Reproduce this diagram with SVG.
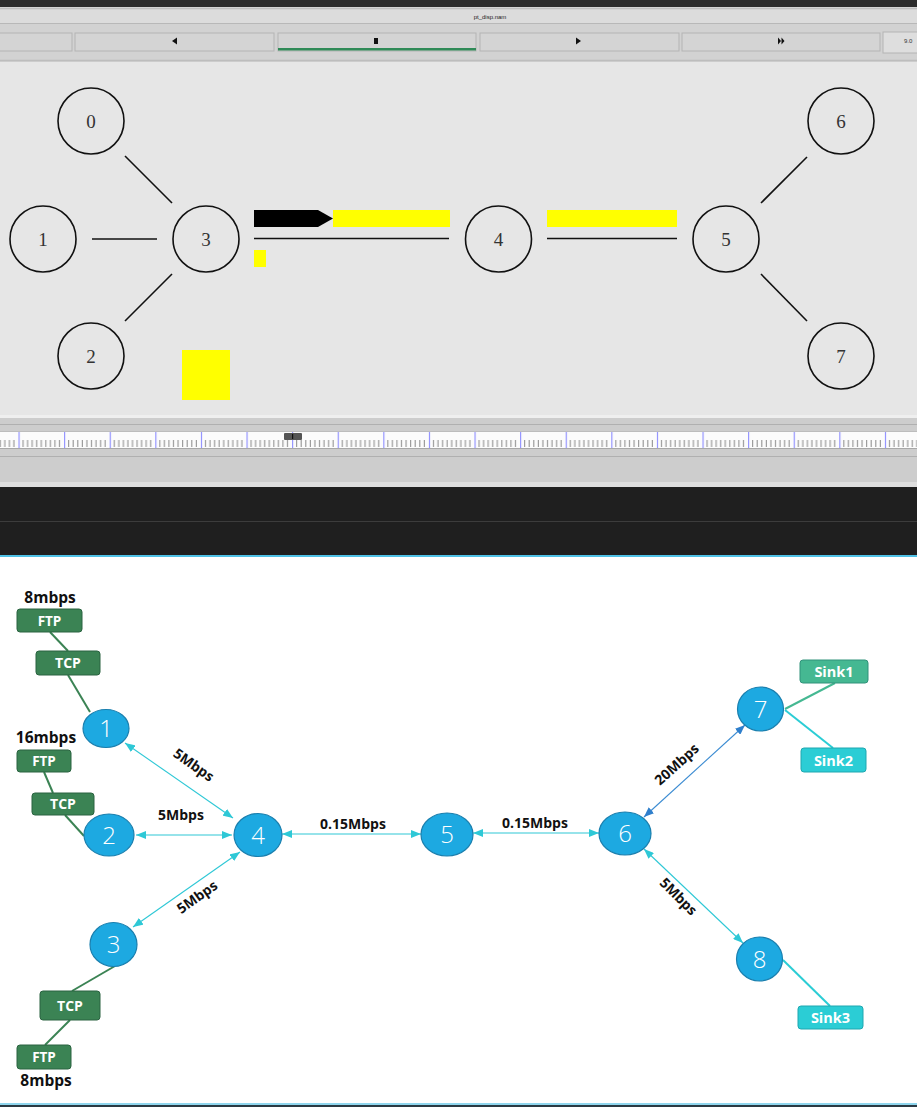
<svg xmlns="http://www.w3.org/2000/svg" width="917" height="1115" viewBox="0 0 917 1115">
<defs>
<style>
.nc{fill:none;stroke:#111;stroke-width:1.6}
.nt{font-family:"Liberation Serif",serif;font-size:19px;fill:#333;text-anchor:middle}
.nl{stroke:#111;stroke-width:1.6}
.btn{fill:#d4d4d4;stroke:#b4b4b4;stroke-width:1}
.ico{fill:#111}
.bn{fill:#1da9e1;stroke:#1a7fae;stroke-width:1.2}
.bt{font-family:"Open Sans","Liberation Sans",sans-serif;font-size:24px;font-weight:300;fill:#fff;text-anchor:middle}
.gb{fill:#3b8354;stroke:#2a6340;stroke-width:1}
.sk1{fill:#45b892;stroke:#31927a;stroke-width:1}
.sk2{fill:#2bcdd5;stroke:#1fa7b0;stroke-width:1}
.bx{font-family:"Open Sans","Liberation Sans",sans-serif;font-weight:700;fill:#fff;text-anchor:middle}
.lb{font-family:"Open Sans","Liberation Sans",sans-serif;font-size:14px;font-weight:700;fill:#111;text-anchor:middle}
.rate{font-family:"Open Sans","Liberation Sans",sans-serif;font-size:15.5px;font-weight:700;fill:#111;text-anchor:middle}
.e{stroke:#2ec8d6;stroke-width:1.1;fill:none;marker-start:url(#ac);marker-end:url(#ac)}
.eb{stroke:#3a8bd2;stroke-width:1.1;fill:none;marker-start:url(#ab);marker-end:url(#ab)}
.gl{stroke:#3b8354;stroke-width:2;fill:none}
.tl{stroke:#45b892;stroke-width:2;fill:none}
.cl{stroke:#2bcdd5;stroke-width:2;fill:none}
</style>
<marker id="ac" viewBox="0 0 10 8" refX="10" refY="4" markerWidth="10" markerHeight="8" orient="auto-start-reverse" markerUnits="userSpaceOnUse"><path d="M0,0 L10,4 L0,8 z" fill="#2ec8d6"/></marker>
<marker id="ab" viewBox="0 0 10 8" refX="10" refY="4" markerWidth="10" markerHeight="8" orient="auto-start-reverse" markerUnits="userSpaceOnUse"><path d="M0,0 L10,4 L0,8 z" fill="#2f7fcc"/></marker>
<pattern id="ruler" x="18.5" y="432" width="45.6" height="16" patternUnits="userSpaceOnUse">
<rect x="0" y="0" width="45.6" height="16" fill="#fcfcfc"/>
<path d="M4.6,8V15M9.1,8V15M13.7,8V15M18.2,8V15M22.8,8V15M27.4,8V15M31.9,8V15M36.5,8V15M41,8V15" stroke="#888" stroke-width="1"/>
<path d="M0.5,0V16" stroke="#8c8cff" stroke-width="1.2"/>
</pattern>
</defs>

<!-- window chrome -->
<rect x="0" y="0" width="917" height="1115" fill="#ffffff"/>
<rect x="0" y="0" width="917" height="7" fill="#2b2b2b"/>
<rect x="0" y="7" width="917" height="55" fill="#d2d2d2"/>
<rect x="0" y="10" width="917" height="13" fill="#dcdcdc"/>
<line x1="0" y1="23.5" x2="917" y2="23.5" stroke="#b8b8b8" stroke-width="1"/>
<line x1="0" y1="8.5" x2="917" y2="8.5" stroke="#bdbdbd" stroke-width="1"/>
<text x="490" y="19" font-family="Liberation Sans,sans-serif" font-size="6px" fill="#222" text-anchor="middle">pt_disp.nam</text>

<g id="toolbar">
<rect class="btn" x="-2" y="33" width="74" height="18"/>
<rect class="btn" x="75" y="33" width="199" height="18"/>
<rect class="btn" x="278" y="33" width="198" height="18"/>
<rect x="278" y="48" width="198" height="2.5" fill="#2f8a57"/>
<rect class="btn" x="480" y="33" width="199" height="18"/>
<rect class="btn" x="682" y="33" width="198" height="18"/>
<rect x="883" y="32" width="40" height="21" fill="#dedede" stroke="#b4b4b4"/>
<text x="904" y="43" font-family="Liberation Sans,sans-serif" font-size="6px" fill="#333">9.0</text>
<path class="ico" d="M172,41 L177,37.5 L177,44.5 z"/>
<rect class="ico" x="374" y="38" width="4" height="6"/>
<path class="ico" d="M576,37.5 L581,41 L576,44.5 z"/>
<path class="ico" d="M778,37.5 L781,41 L778,44.5 z M781.5,37.5 L784.5,41 L781.5,44.5 z"/>
</g>
<line x1="0" y1="60.5" x2="917" y2="60.5" stroke="#bdbdbd" stroke-width="1.5"/>

<!-- NAM canvas -->
<rect x="0" y="62" width="917" height="353" fill="#e6e6e6"/>

<g id="nam-links">
<line class="nl" x1="125" y1="156" x2="172" y2="203"/>
<line class="nl" x1="92" y1="239" x2="157" y2="239"/>
<line class="nl" x1="125" y1="321" x2="172" y2="274"/>
<line class="nl" x1="254" y1="238.5" x2="449" y2="238.5"/>
<line class="nl" x1="547" y1="238.5" x2="677" y2="238.5"/>
<line class="nl" x1="761" y1="203" x2="807" y2="157"/>
<line class="nl" x1="761" y1="274" x2="807" y2="321"/>
</g>

<g id="nam-packets">
<path d="M254,210 H318 L333,218.5 L318,227 H254 z" fill="#000"/>
<rect x="333" y="210" width="117" height="17" fill="#ffff00"/>
<rect x="547" y="210" width="130" height="17" fill="#ffff00"/>
<rect x="254" y="250" width="12" height="17" fill="#ffff00"/>
<rect x="182" y="350" width="48" height="50" fill="#ffff00"/>
</g>

<g id="nam-n0"><circle class="nc" cx="91" cy="121" r="33"/><text class="nt" x="91" y="128">0</text></g>
<g id="nam-n1"><circle class="nc" cx="43" cy="239" r="33"/><text class="nt" x="43" y="246">1</text></g>
<g id="nam-n2"><circle class="nc" cx="91" cy="356" r="33"/><text class="nt" x="91" y="363">2</text></g>
<g id="nam-n3"><circle class="nc" cx="206" cy="239" r="33"/><text class="nt" x="206" y="246">3</text></g>
<g id="nam-n4"><circle class="nc" cx="498.5" cy="239" r="33"/><text class="nt" x="498.5" y="246">4</text></g>
<g id="nam-n5"><circle class="nc" cx="726" cy="239" r="33"/><text class="nt" x="726" y="246">5</text></g>
<g id="nam-n6"><circle class="nc" cx="841" cy="121" r="33"/><text class="nt" x="841" y="128">6</text></g>
<g id="nam-n7"><circle class="nc" cx="841" cy="356" r="33"/><text class="nt" x="841" y="363">7</text></g>

<!-- lower chrome / timeline -->
<rect x="0" y="415" width="917" height="75" fill="#cdcdcd"/>
<rect x="0" y="415" width="917" height="3" fill="#efefef"/>
<line x1="0" y1="424.5" x2="917" y2="424.5" stroke="#b0b0b0" stroke-width="1"/>
<rect x="0" y="432" width="917" height="16" fill="url(#ruler)"/>
<line x1="0" y1="431.5" x2="917" y2="431.5" stroke="#bdbdbd" stroke-width="1"/>
<line x1="0" y1="448.5" x2="917" y2="448.5" stroke="#a8a8a8" stroke-width="1.2"/>
<line x1="0" y1="456.5" x2="917" y2="456.5" stroke="#b0b0b0" stroke-width="1"/>
<rect x="0" y="482" width="917" height="5" fill="#dedede"/>
<rect x="284" y="433" width="18" height="7" fill="#555" rx="1"/>
<rect x="292" y="434" width="1.2" height="5" fill="#111"/>
<rect x="0" y="487" width="917" height="68" fill="#1f1f1f"/>
<line x1="0" y1="521.5" x2="917" y2="521.5" stroke="#3c3c3c" stroke-width="1"/>
<rect x="0" y="555" width="917" height="2" fill="#4ec1e6"/>

<!-- bottom diagram connectors -->
<g id="connectors">
<line class="e" x1="125" y1="743" x2="233" y2="818"/>
<line class="e" x1="136" y1="835" x2="232" y2="835"/>
<line class="e" x1="133" y1="927" x2="240" y2="852"/>
<line class="e" x1="282" y1="834" x2="421" y2="834"/>
<line class="e" x1="473" y1="833" x2="599" y2="833"/>
<line class="eb" x1="644" y1="817" x2="745" y2="725"/>
<line class="e" x1="644" y1="849" x2="743" y2="943"/>
<line class="gl" x1="50" y1="632" x2="68" y2="651"/>
<line class="gl" x1="68" y1="675" x2="90" y2="712"/>
<line class="gl" x1="44" y1="772" x2="53" y2="793"/>
<line class="gl" x1="65" y1="815" x2="84" y2="836"/>
<line class="gl" x1="115" y1="966" x2="72" y2="991"/>
<line class="gl" x1="70" y1="1020" x2="45" y2="1045"/>
<line class="tl" x1="785" y1="709" x2="835" y2="683"/>
<line class="cl" x1="785" y1="710" x2="833" y2="748"/>
<line class="cl" x1="783" y1="960" x2="830" y2="1006"/>
</g>

<g id="link-labels">
<text class="lb" transform="translate(191,769) rotate(35)">5Mbps</text>
<text class="lb" x="181" y="820">5Mbps</text>
<text class="lb" transform="translate(200,901) rotate(-35)">5Mbps</text>
<text class="lb" x="353" y="829">0.15Mbps</text>
<text class="lb" x="535" y="828">0.15Mbps</text>
<text class="lb" transform="translate(680,768) rotate(-42)">20Mbps</text>
<text class="lb" transform="translate(675,900) rotate(45)">5Mbps</text>
</g>

<g id="n1"><ellipse class="bn" cx="106" cy="728.5" rx="23" ry="19"/><text class="bt" x="106" y="737">1</text></g>
<g id="n2"><ellipse class="bn" cx="109" cy="835" rx="25" ry="21"/><text class="bt" x="109" y="843.5">2</text></g>
<g id="n3"><ellipse class="bn" cx="113.5" cy="944.5" rx="23.5" ry="22"/><text class="bt" x="113.5" y="953">3</text></g>
<g id="n4"><ellipse class="bn" cx="258" cy="835" rx="24" ry="21.5"/><text class="bt" x="258" y="843.5">4</text></g>
<g id="n5"><ellipse class="bn" cx="447" cy="834.5" rx="26" ry="21.5"/><text class="bt" x="447" y="843">5</text></g>
<g id="n6"><ellipse class="bn" cx="625" cy="833.5" rx="26" ry="21.5"/><text class="bt" x="625" y="842">6</text></g>
<g id="n7"><ellipse class="bn" cx="760.5" cy="709" rx="23" ry="22"/><text class="bt" x="760.5" y="717.5">7</text></g>
<g id="n8"><ellipse class="bn" cx="759.5" cy="959" rx="23" ry="22"/><text class="bt" x="759.5" y="967.5">8</text></g>

<g id="agent1">
<text class="rate" x="50" y="603">8mbps</text>
<rect class="gb" x="17" y="609" width="65" height="23" rx="3"/><text class="bx" x="49.5" y="625.5" font-size="13.5px">FTP</text>
<rect class="gb" x="36" y="651" width="64" height="24" rx="3"/><text class="bx" x="68" y="668" font-size="14px">TCP</text>
</g>
<g id="agent2">
<text class="rate" x="46" y="743">16mbps</text>
<rect class="gb" x="17" y="750" width="54" height="22" rx="3"/><text class="bx" x="44" y="766" font-size="13.5px">FTP</text>
<rect class="gb" x="32" y="793" width="62" height="22" rx="3"/><text class="bx" x="63" y="809" font-size="14px">TCP</text>
</g>
<g id="agent3">
<rect class="gb" x="40" y="991" width="60" height="29" rx="3"/><text class="bx" x="70" y="1010.5" font-size="14px">TCP</text>
<rect class="gb" x="17" y="1045" width="54" height="24" rx="3"/><text class="bx" x="44" y="1062" font-size="13.5px">FTP</text>
<text class="rate" x="46" y="1086">8mbps</text>
</g>
<g id="sink1"><rect class="sk1" x="800" y="660" width="68" height="23" rx="3"/><text class="bx" x="834" y="677" font-size="14.5px">Sink1</text></g>
<g id="sink2"><rect class="sk2" x="801" y="748" width="65" height="24" rx="3"/><text class="bx" x="833.5" y="765.5" font-size="14.5px">Sink2</text></g>
<g id="sink3"><rect class="sk2" x="798" y="1006" width="65" height="23" rx="3"/><text class="bx" x="830.5" y="1023" font-size="14.5px">Sink3</text></g>

<rect x="0" y="1103" width="917" height="2" fill="#8fd6ee"/>
<rect x="0" y="1105" width="917" height="2" fill="#2a3a44"/>
</svg>
